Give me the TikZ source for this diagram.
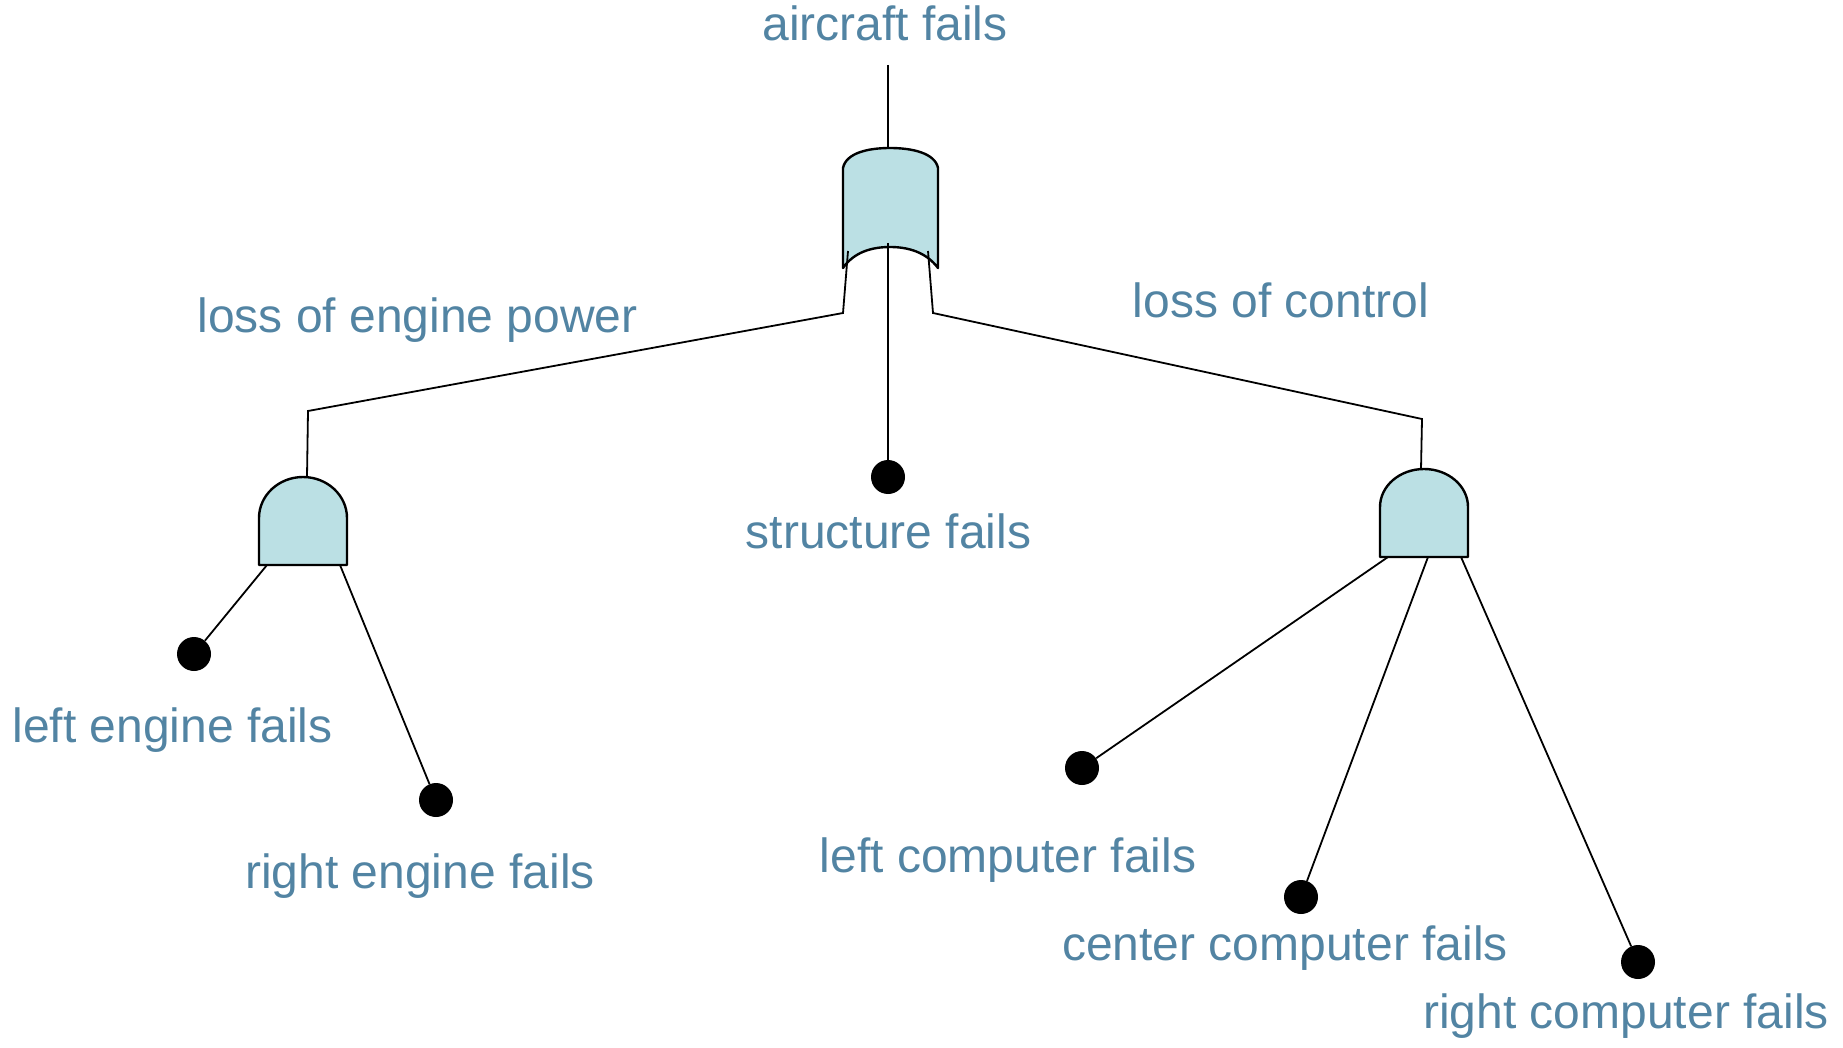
\documentclass[tikz,border=0pt]{standalone}
\usepackage{fontspec}
\setmainfont{Liberation Sans}
\definecolor{labelblue}{RGB}{82,132,163}
\definecolor{gatefill}{RGB}{187,224,228}
\begin{document}
\begin{tikzpicture}[x=1pt,y=-1pt,
  lbl/.style={text=labelblue, font=\fontsize{48}{57}\selectfont, inner sep=0pt, anchor=base},
  event/.style={circle, fill=black, inner sep=0pt, minimum size=34pt},
  wire/.style={line width=1.8pt, draw=black, line join=miter},
  gate/.style={fill=gatefill, draw=black, line width=2.4pt, line join=round}]
\useasboundingbox (0,0) rectangle (1843,1048);

% ---------- gates ----------
% top OR gate
\path[gate] (843,268) -- (843,168)
  .. controls (846,153) and (868,148) .. (890,148)
  .. controls (912,148) and (935,153) .. (938,168)
  -- (938,268)
  .. controls (926,252) and (908,247) .. (890,247)
  .. controls (872,247) and (854,252) .. (843,268) -- cycle;
% left AND gate
\path[gate] (259,565) -- (259,518)
  .. controls (259,495.4) and (278.7,477) .. (303,477)
  .. controls (327.3,477) and (347,495.4) .. (347,518)
  -- (347,565) -- cycle;
% right AND gate
\path[gate] (1380,557) -- (1380,507)
  .. controls (1380,486) and (1399.7,469) .. (1424,469)
  .. controls (1448.3,469) and (1468,486) .. (1468,507)
  -- (1468,557) -- cycle;

% ---------- gate pins and wire bends ----------
\coordinate (top-end) at (888,65);
\coordinate (or-out) at (888,148);
\coordinate (or-in1) at (848,251);
\coordinate (or-in2) at (888,243);
\coordinate (or-in3) at (928,251);
\coordinate (bend-l1) at (843,313);
\coordinate (bend-l2) at (308,411);
\coordinate (bend-r1) at (933,313);
\coordinate (bend-r2) at (1422,419);
\coordinate (andL-out) at (307,477);
\coordinate (andL-in1) at (267,565);
\coordinate (andL-in2) at (340,565);
\coordinate (andR-out) at (1421,469);
\coordinate (andR-in1) at (1388,557);
\coordinate (andR-in2) at (1428,557);
\coordinate (andR-in3) at (1461,557);

% ---------- basic events ----------
\node[event] (structure) at (888,477) {};
\node[event] (leng) at (194,654) {};
\node[event] (reng) at (436,800) {};
\node[event] (lcomp) at (1082,768) {};
\node[event] (ccomp) at (1301,897) {};
\node[event] (rcomp) at (1638,962) {};

% ---------- wires ----------
\draw[wire] (top-end) -- (or-out);
\draw[wire] (or-in1) -- (bend-l1) -- (bend-l2) -- (andL-out);
\draw[wire] (or-in2) -- (structure);
\draw[wire] (or-in3) -- (bend-r1) -- (bend-r2) -- (andR-out);
\draw[wire] (andL-in1) -- (leng);
\draw[wire] (andL-in2) -- (reng);
\draw[wire] (andR-in1) -- (lcomp);
\draw[wire] (andR-in2) -- (ccomp);
\draw[wire] (andR-in3) -- (rcomp);

% ---------- labels ----------
\node[lbl] (t-aircraft) at (885,41) {aircraft fails};
\node[lbl] (t-engine) at (417.5,332) {loss of engine power};
\node[lbl] (t-control) at (1281,317) {loss of control};
\node[lbl] (t-structure) at (888.5,548) {structure fails};
\node[lbl] (t-leng) at (172.5,742) {left engine fails};
\node[lbl] (t-reng) at (420,888) {right engine fails};
\node[lbl] (t-lcomp) at (1008,872) {left computer fails};
\node[lbl] (t-ccomp) at (1285,960) {center computer fails};
\node[lbl] (t-rcomp) at (1626,1028) {right computer fails};
\end{tikzpicture}
\end{document}
